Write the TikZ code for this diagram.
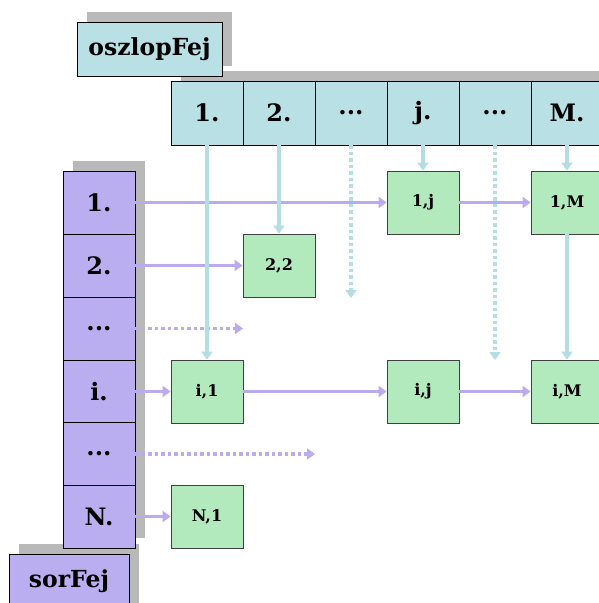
\documentclass[tikz,border=0pt]{standalone}
\usepackage{fontspec}
\setmainfont{DejaVu Serif}
\usetikzlibrary{arrows.meta}

\definecolor{oszlopszin}{RGB}{185,224,228}
\definecolor{sorszin}{RGB}{187,174,240}
\definecolor{elemszin}{RGB}{178,234,190}
\definecolor{kekny}{RGB}{180,222,228}
\definecolor{lilany}{RGB}{188,170,240}
\definecolor{arnyekszin}{RGB}{185,185,185}

\begin{document}
\begin{tikzpicture}[x=1pt, y=-1pt,
  arnyek/.style={fill=arnyekszin},
  oszlop/.style={draw, line width=0.8pt, fill=oszlopszin, minimum width=72pt, minimum height=64pt, inner sep=0pt, font=\bfseries\fontsize{24}{24}\selectfont},
  sor/.style={draw, line width=0.8pt, fill=sorszin, minimum width=72pt, minimum height=63pt, inner sep=0pt, font=\bfseries\fontsize{24}{24}\selectfont},
  elem/.style={draw=black!75, line width=0.8pt, fill=elemszin, minimum width=72pt, minimum height=63pt, inner sep=0pt, font=\bfseries\fontsize{16}{16}\selectfont},
  fejlec/.style={draw, line width=0.8pt, inner sep=0pt, font=\bfseries\fontsize{23.5}{23.5}\selectfont},
  kek/.style={draw=kekny, line width=3.8pt, -{Triangle[width=11pt,length=8pt]}},
  lila/.style={draw=lilany, line width=3.8pt, -{Triangle[width=11pt,length=8pt]}},
  pontozott/.style={dash pattern=on 3.5pt off 3pt}]
  \useasboundingbox (0,0) rectangle (598,603);

  % árnyékok
  \fill[arnyek] (87,12) rectangle (232,66);
  \fill[arnyek] (181,71) rectangle (613,135);
  \fill[arnyek] (73,161) rectangle (145,538);
  \fill[arnyek] (19,544) rectangle (139,613);

  % fejlécek
  \node[fejlec, fill=oszlopszin, minimum width=145pt, minimum height=54pt] (oszlopFej) at (149.5,49) {oszlopFej};
  \node[fejlec, fill=sorszin, minimum width=120pt, minimum height=54pt] (sorFej) at (69,581) {sorFej};

  % oszlopfej elemei
  \node[oszlop] (o1) at (207,113) {1.};
  \node[oszlop] (o2) at (279,113) {2.};
  \node[oszlop] (o3) at (351,113) {...};
  \node[oszlop] (oj) at (423,113) {j.};
  \node[oszlop] (o5) at (495,113) {...};
  \node[oszlop] (oM) at (567,113) {M.};

  % sorfej elemei
  \node[sor] (s1) at (99,202.5) {1.};
  \node[sor] (s2) at (99,265.5) {2.};
  \node[sor] (s3) at (99,328.5) {...};
  \node[sor] (si) at (99,391.5) {i.};
  \node[sor] (s5) at (99,454) {...};
  \node[sor] (sN) at (99,516.5) {N.};

  % nem nulla elemek
  \node[elem] (e1j) at (423,202.5) {1,j};
  \node[elem] (e1M) at (567,202.5) {1,M};
  \node[elem] (e22) at (279,265.5) {2,2};
  \node[elem] (ei1) at (207,391.5) {i,1};
  \node[elem] (eij) at (423,391.5) {i,j};
  \node[elem] (eiM) at (567,391.5) {i,M};
  \node[elem] (eN1) at (207,516.5) {N,1};

  % szabad végek
  \coordinate (v3) at (351,298);
  \coordinate (v5) at (495,360);
  \coordinate (h3) at (243,328.5);
  \coordinate (h5) at (315,454);

  % sorok láncai
  \draw[lila] (s1.east) -- (e1j.west);
  \draw[lila] (e1j.east) -- (e1M.west);
  \draw[lila] (s2.east) -- (e22.west);
  \draw[lila, pontozott] (s3.east) -- (h3);
  \draw[lila] (si.east) -- (ei1.west);
  \draw[lila] (ei1.east) -- (eij.west);
  \draw[lila] (eij.east) -- (eiM.west);
  \draw[lila, pontozott] (s5.east) -- (h5);
  \draw[lila] (sN.east) -- (eN1.west);

  % oszlopok láncai
  \draw[kek] (o1.south) -- (ei1.north);
  \draw[kek] (o2.south) -- (e22.north);
  \draw[kek, pontozott] (o3.south) -- (v3);
  \draw[kek] (oj.south) -- (e1j.north);
  \draw[kek, pontozott] (o5.south) -- (v5);
  \draw[kek] (oM.south) -- (e1M.north);
  \draw[kek] (e1M.south) -- (eiM.north);
\end{tikzpicture}
\end{document}
